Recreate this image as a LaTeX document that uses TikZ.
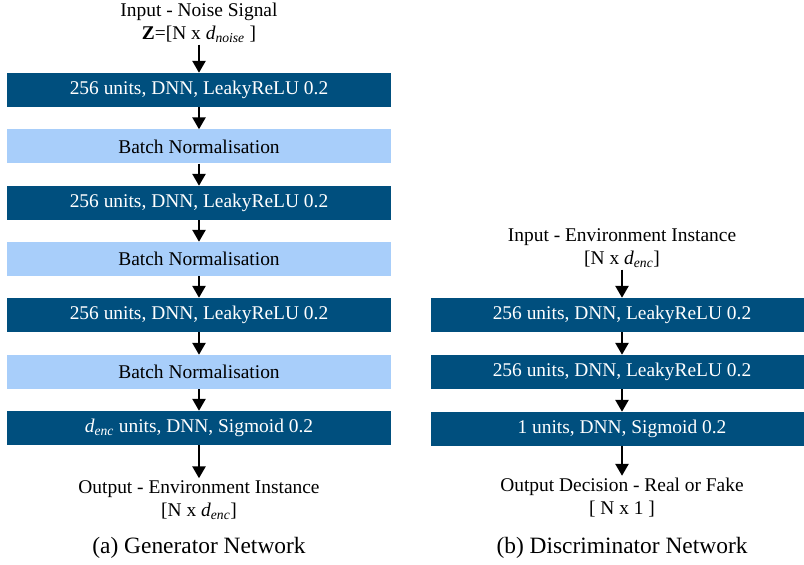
\documentclass[tikz,border=0pt]{standalone}
\usepackage{fontspec}
\setmainfont{Liberation Serif}
\usetikzlibrary{arrows.meta}
\definecolor{azulDNN}{HTML}{004F7E}
\definecolor{celesteBN}{HTML}{A8CEFA}

\begin{document}
\begin{tikzpicture}[x=1bp,y=-1bp,>={Triangle[width=13bp,length=12bp]},
  capa/.style={fill=azulDNN,text=white,minimum height=34bp,inner sep=0pt,
    font=\fontsize{19.5}{23}\selectfont},
  norma/.style={capa,fill=celesteBN,text=black},
  etiq/.style={align=center,inner sep=2bp,font=\fontsize{19.5}{23}\selectfont},
  pie/.style={font=\fontsize{23.5}{28}\selectfont},
  flecha/.style={->,line width=2.6bp}]
  \useasboundingbox (0,0) rectangle (804,565);
  % generator
  \node[etiq] (gin) at (199,22.5) {Input - Noise Signal\\
    \textbf{Z}=[N x \textit{d}\textsubscript{\textit{noise}} ]};
  \node[capa,minimum width=384bp] (g1) at (199,90) {256 units, DNN, LeakyReLU 0.2};
  \node[norma,minimum width=384bp] (g2) at (199,146.5) {Batch Normalisation};
  \node[capa,minimum width=384bp] (g3) at (199,203) {256 units, DNN, LeakyReLU 0.2};
  \node[norma,minimum width=384bp] (g4) at (199,259) {Batch Normalisation};
  \node[capa,minimum width=384bp] (g5) at (199,315) {256 units, DNN, LeakyReLU 0.2};
  \node[norma,minimum width=384bp] (g6) at (199,372) {Batch Normalisation};
  \node[capa,minimum width=384bp] (g7) at (199,428)
    {\textit{d}\textsubscript{\textit{enc}} units, DNN, Sigmoid 0.2};
  \node[etiq] (gout) at (199,500) {Output - Environment Instance\\
    {[}N x \textit{d}\textsubscript{\textit{enc}}]};
  \node[pie] (gcap) at (199,548) {(a) Generator Network};
  \draw[flecha] (gin) -- (g1);
  \draw[flecha] (g1) -- (g2);
  \draw[flecha] (g2) -- (g3);
  \draw[flecha] (g3) -- (g4);
  \draw[flecha] (g4) -- (g5);
  \draw[flecha] (g5) -- (g6);
  \draw[flecha] (g6) -- (g7);
  \draw[flecha] (g7) -- (gout);
  % discriminator
  \node[etiq] (din) at (622,248) {Input - Environment Instance\\
    {[}N x \textit{d}\textsubscript{\textit{enc}}]};
  \node[capa,minimum width=382bp] (d1) at (622,315) {256 units, DNN, LeakyReLU 0.2};
  \node[capa,minimum width=382bp] (d2) at (622,372) {256 units, DNN, LeakyReLU 0.2};
  \node[capa,minimum width=382bp] (d3) at (622,429) {1 units, DNN, Sigmoid 0.2};
  \node[etiq] (dout) at (622,497.5) {Output Decision - Real or Fake\\ {[} N x 1 ]};
  \node[pie] (dcap) at (622,548) {(b) Discriminator Network};
  \draw[flecha] (din) -- (d1);
  \draw[flecha] (d1) -- (d2);
  \draw[flecha] (d2) -- (d3);
  \draw[flecha] (d3) -- (dout);
\end{tikzpicture}
\end{document}
